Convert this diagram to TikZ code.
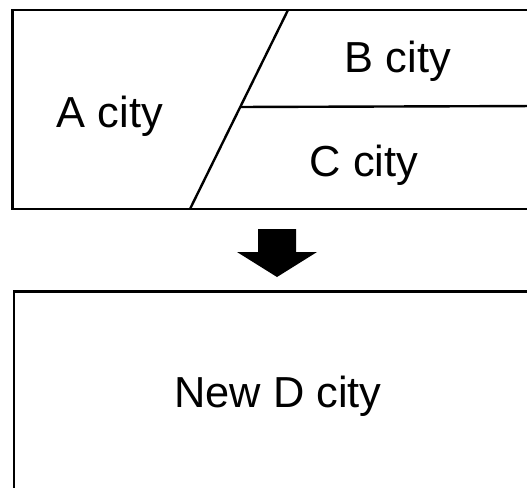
\documentclass[tikz,border=0pt]{standalone}
\usepackage{fontspec}
\setmainfont{Liberation Sans}
\usetikzlibrary{positioning,calc}
\tikzstyle{city} = [inner sep=0pt, anchor=base, font=\fontsize{43.4}{50}\selectfont]
\tikzstyle{border} = [line width=2.4pt, line join=miter]

\begin{document}
\begin{tikzpicture}[x=1pt, y=-1pt]
\useasboundingbox (0,0) rectangle (527,487);
\clip (0,0) rectangle (527,487);

% Old cities
\coordinate (tl) at (12.5,10);
\coordinate (bl) at (12.5,209);
\coordinate (dtop) at (288,10);
\coordinate (dbot) at (190,209);
\coordinate (mid) at ($(dtop)!0.4874!(dbot)$);
\draw[border] (540,10) -- (tl) -- (bl) -- (540,209);
\draw[border] (dtop) -- (dbot);
\draw[border] (mid) -- (540,106);

\node[city] (a) at (110,127) {A city};
\node[city] (b) at (398,72)  {B city};
\node[city] (c) at (364,176) {C city};

% Arrow
\fill (258,229) -- (296,229) -- (296,252) -- (317,252) -- (277,277)
  -- (237,252) -- (258,252) -- cycle;

% New city
\draw[border] (14,500) -- (14,291.5) -- (540,291.5);
\node[city] (d) at (278,407) {New D city};
\end{tikzpicture}
\end{document}
